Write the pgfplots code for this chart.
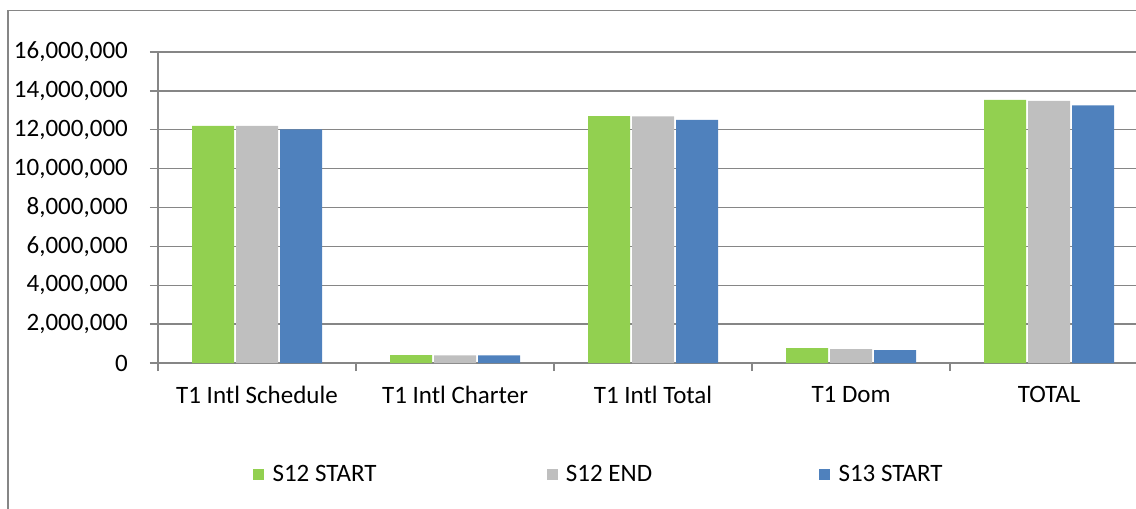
\documentclass[border=0pt]{standalone}
\usepackage{pgfplots}
\pgfplotsset{compat=1.18}
\usepackage{fontspec}
\setmainfont{Carlito}

\definecolor{axgray}{RGB}{134,134,134}
\definecolor{sgreen}{RGB}{146,208,80}
\definecolor{sgray}{RGB}{191,191,191}
\definecolor{sblue}{RGB}{79,129,189}

\begin{document}
\begin{tikzpicture}
\useasboundingbox (0,0) rectangle (1136pt,-509pt);
\draw[axgray, line width=1.3pt] (8pt,-509pt) -- (8pt,-10.5pt) -- (1136pt,-10.5pt);
\begin{axis}[
    at={(158pt,-363pt)}, anchor=south west,
    scale only axis,
    width=978pt, height=311pt,
    ybar=2pt, bar width=42pt,
    xmin=-0.5, xmax=4.439,
    ymin=0, ymax=16000000,
    ytick={0,2000000,...,16000000},
    scaled y ticks=false,
    yticklabel style={/pgf/number format/.cd, fixed, 1000 sep={,}, assume math mode=true,
        /tikz/.cd, inner sep=0pt, xshift=-22pt},
    xtick={0,...,4},
    xticklabels={T1 Intl Schedule, T1 Intl Charter, T1 Intl Total, T1 Dom, TOTAL},
    xticklabel style={inner sep=0pt, yshift=-15pt},
    minor xtick={-0.5,0.5,1.5,2.5,3.5},
    xtick style={draw=none},
    minor x tick style={draw=axgray, line width=1.3pt},
    ytick style={draw=axgray, line width=1.3pt},
    major tick length=8pt, minor tick length=8pt,
    tick align=outside,
    axis x line*=bottom, axis y line*=left,
    axis line style={draw=axgray, line width=1.3pt},
    ymajorgrids,
    grid style={draw=axgray, line width=1.3pt},
    tick label style={font=\fontsize{25}{30}\selectfont, text=black},
    legend columns=3,
    legend style={at={(0.0971,-0.357)}, anchor=west, draw=none, inner sep=0pt,
        font=\fontsize{25}{30}\selectfont,
        nodes={inner sep=0pt},
        /tikz/every odd column/.style={column sep=8.4pt},
        /tikz/column 2/.style={column sep=170pt},
        /tikz/column 4/.style={column sep=167pt}},
    legend image code/.code={\fill[#1] (0pt,-5.5pt) rectangle (11pt,5.5pt);},
]
\addplot[draw=none, fill=sgreen] coordinates {(0,12200000) (1,410000) (2,12700000) (3,770000) (4,13540000)};
\addplot[draw=none, fill=sgray] coordinates {(0,12200000) (1,390000) (2,12690000) (3,720000) (4,13490000)};
\addplot[draw=none, fill=sblue] coordinates {(0,12020000) (1,390000) (2,12510000) (3,660000) (4,13260000)};
\legend{S12 START, S12 END, S13 START}
\end{axis}
\end{tikzpicture}
\end{document}
